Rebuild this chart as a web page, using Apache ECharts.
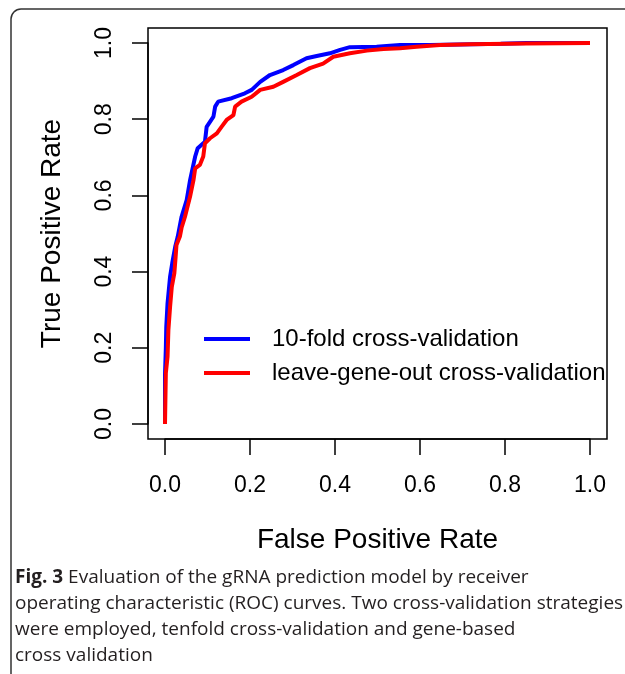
<!DOCTYPE html>
<html>
<head>
<meta charset="utf-8">
<script src="https://cdn.jsdelivr.net/npm/echarts@6/dist/echarts.min.js"></script>
<style>
    html, body { margin: 0; padding: 0; background: #fff; }
    #myChart { width: 625px; height: 674px; }
</style>
</head>
<body>
<div id="myChart"></div>
<script>
    // ROC points
    var fprTenfold = [0, 0, 0.002, 0.003, 0.006, 0.012, 0.017, 0.024, 0.030, 0.039, 0.051, 0.059, 0.071, 0.077, 0.094, 0.098, 0.114, 0.118, 0.125, 0.157, 0.188, 0.204, 0.224, 0.247, 0.278, 0.302, 0.333, 0.357, 0.388, 0.412, 0.435, 0.498, 0.553, 0.624, 0.790, 0.850, 1]
    var tprTenfold = [0, 0.130, 0.200, 0.255, 0.317, 0.387, 0.422, 0.465, 0.492, 0.544, 0.588, 0.640, 0.702, 0.724, 0.741, 0.780, 0.807, 0.833, 0.846, 0.855, 0.868, 0.877, 0.898, 0.916, 0.929, 0.942, 0.960, 0.966, 0.973, 0.982, 0.989, 0.990, 0.995, 0.995, 0.998, 1, 1]
    var fprGene = [0, 0.002, 0.006, 0.008, 0.012, 0.016, 0.022, 0.025, 0.027, 0.035, 0.039, 0.047, 0.059, 0.067, 0.071, 0.082, 0.090, 0.094, 0.106, 0.122, 0.133, 0.145, 0.161, 0.165, 0.180, 0.204, 0.224, 0.255, 0.278, 0.310, 0.341, 0.372, 0.396, 0.435, 0.475, 0.514, 0.553, 0.592, 0.647, 0.718, 0.851, 1]
    var tprGene = [0, 0.134, 0.177, 0.247, 0.308, 0.360, 0.396, 0.439, 0.470, 0.492, 0.515, 0.544, 0.597, 0.640, 0.671, 0.680, 0.702, 0.737, 0.750, 0.763, 0.780, 0.798, 0.811, 0.833, 0.846, 0.859, 0.877, 0.885, 0.898, 0.916, 0.934, 0.946, 0.964, 0.973, 0.980, 0.984, 0.986, 0.990, 0.995, 0.997, 0.999, 1]
    var seriesNames = ['10-fold cross-validation', 'leave-gene-out cross-validation']
    var captionLines = [
        '{b|Fig. 3} Evaluation of the gRNA prediction model by receiver',
        'operating characteristic (ROC) curves. Two cross-validation strategies',
        'were employed, tenfold cross-validation and gene-based',
        'cross validation'
    ]

    function pairs (xs, ys) {
        var out = []
        for (var i = 0; i < xs.length; i++) {
            out.push([xs[i], ys[i]])
        }
        return out
    }

    var myChart = echarts.init(document.getElementById('myChart'))
    var axisFont = 'Liberation Sans, Arial, sans-serif'
    var blackLine = { color: '#000', width: 1.5 }

    myChart.setOption({
        animation: false,
        grid: { left: 165, right: 35, top: 43, bottom: 250 },
        legend: {
            orient: 'vertical',
            left: 199,
            top: 322,
            icon: 'rect',
            itemWidth: 46,
            itemHeight: 4,
            itemGap: 10,
            textStyle: { fontFamily: axisFont, fontSize: 24, color: '#000', padding: [0, 0, 0, 17] },
            data: seriesNames
        },
        xAxis: {
            type: 'value',
            min: 0,
            max: 1,
            interval: 0.2,
            offset: 15,
            axisLine: { show: true, onZero: false, lineStyle: blackLine },
            axisTick: { show: true, length: 16, lineStyle: blackLine },
            axisLabel: {
                margin: 35,
                fontFamily: axisFont,
                fontSize: 23,
                color: '#000',
                formatter: function (v) { return v.toFixed(1) }
            },
            splitLine: { show: false },
            name: 'False Positive Rate',
            nameLocation: 'middle',
            nameGap: 87,
            nameTextStyle: { fontFamily: axisFont, fontSize: 28, color: '#000' }
        },
        yAxis: {
            type: 'value',
            min: 0,
            max: 1,
            interval: 0.2,
            offset: 17,
            axisLine: { show: true, onZero: false, lineStyle: blackLine },
            axisTick: { show: true, length: 16, lineStyle: blackLine },
            axisLabel: {
                rotate: 90,
                margin: 32,
                fontFamily: axisFont,
                fontSize: 23,
                color: '#000',
                formatter: function (v) { return v.toFixed(1) }
            },
            splitLine: { show: false },
            name: 'True Positive Rate',
            nameLocation: 'middle',
            nameGap: 82,
            nameTextStyle: { fontFamily: axisFont, fontSize: 28, color: '#000' }
        },
        series: [{
            name: seriesNames[0],
            type: 'line',
            symbol: 'none',
            data: pairs(fprTenfold, tprTenfold),
            itemStyle: { color: '#0000ff' },
            lineStyle: { color: '#0000ff', width: 4 },
            z: 2
        },
        {
            name: seriesNames[1],
            type: 'line',
            symbol: 'none',
            data: pairs(fprGene, tprGene),
            itemStyle: { color: '#ff0000' },
            lineStyle: { color: '#ff0000', width: 4 },
            z: 3
        }],
        graphic: [
            // outer figure frame
            {
                type: 'rect',
                shape: { x: 11, y: 9, width: 700, height: 700, r: 10 },
                style: { fill: 'none', stroke: '#333', lineWidth: 1.5 },
                silent: true
            },
            // plot box
            {
                type: 'rect',
                shape: { x: 148, y: 28, width: 459, height: 411 },
                style: { fill: 'none', stroke: '#000', lineWidth: 1.5 },
                silent: true
            },
            {
                type: 'text',
                left: 15,
                top: 565,
                style: {
                    text: captionLines.join('\n'),
                    fontFamily: 'Open Sans, sans-serif',
                    fontSize: 19,
                    lineHeight: 26,
                    fill: '#231f20',
                    rich: {
                        b: { fontFamily: 'Open Sans, sans-serif', fontSize: 19, fontWeight: 'bold', fill: '#231f20', lineHeight: 26 }
                    }
                }
            }
        ]
    })
    window.onresize = myChart.resize
</script>
</body>
</html>
